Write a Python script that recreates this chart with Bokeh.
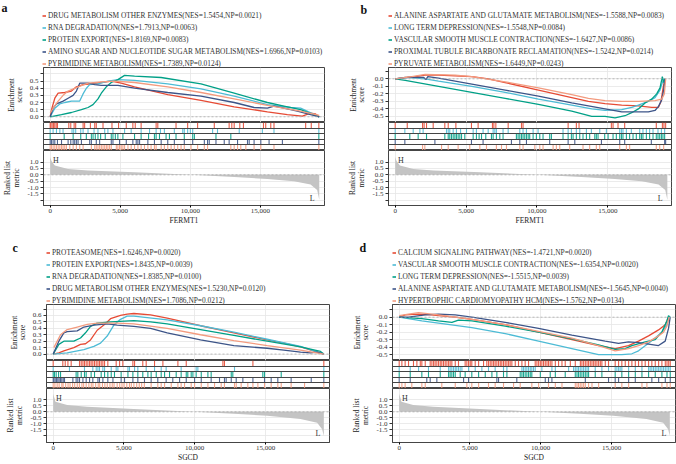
from bokeh.plotting import figure
from bokeh.layouts import column, row
from bokeh.models import (Legend, LegendItem, FixedTicker, NumeralTickFormatter,
                          PrintfTickFormatter, Span, Range1d, Label)
from bokeh.core.properties import value
from bokeh.embed import file_html
from bokeh.resources import INLINE

FONT = "Liberation Serif"
COLORS = ["#E64B35", "#4DBBD5", "#00A087", "#3C5488", "#F39B7F"]
X_TICKS = [0, 5000, 10000, 15000]
FRAME = "#454545"
GRID = "#E6E6E6"

# ---------------- panel a (FERMT1, positive) ----------------
a_labels = ["DRUG METABOLISM OTHER ENZYMES(NES=1.5454,NP=0.0021)",
            "RNA DEGRADATION(NES=1.7913,NP=0.0063)",
            "PROTEIN EXPORT(NES=1.8169,NP=0.0083)",
            "AMINO SUGAR AND NUCLEOTIDE SUGAR METABOLISM(NES=1.6966,NP=0.0103)",
            "PYRIMIDINE METABOLISM(NES=1.7389,NP=0.0124)"]
a_es_x = [
    [0, 95, 332, 569, 1043, 1517, 1872, 2346, 2939, 3650, 4361, 5072, 6020, 8390, 10760, 13130, 15500, 16922, 17988, 18581, 18936, 19200],
    [0, 332, 687, 1043, 1517, 2109, 2346, 2583, 2820, 3413, 4124, 4835, 6020, 8390, 10760, 13130, 15500, 17159, 17870, 19200],
    [0, 806, 1517, 2228, 2702, 3057, 3413, 3650, 4005, 4361, 4835, 5309, 6020, 7916, 10760, 13130, 15500, 16685, 17870, 19200],
    [0, 213, 450, 924, 1280, 1635, 1872, 2109, 2702, 3176, 3650, 4835, 6020, 8390, 10760, 13130, 14552, 15500, 15974, 16685, 17633, 18581, 19200],
    [0, 213, 569, 924, 1280, 1991, 2702, 3650, 4598, 6020, 8390, 10760, 13130, 15500, 17870, 19200]]
a_es_y = [
    [0.0, 0.10, 0.26, 0.33, 0.34, 0.36, 0.42, 0.45, 0.46, 0.48, 0.50, 0.47, 0.42, 0.31, 0.23, 0.14, 0.07, 0.03, 0.01, 0.05, 0.04, 0.0],
    [0.0, 0.12, 0.18, 0.20, 0.22, 0.22, 0.32, 0.40, 0.45, 0.46, 0.50, 0.52, 0.51, 0.46, 0.39, 0.29, 0.17, 0.13, 0.12, 0.0],
    [0.0, 0.03, 0.06, 0.10, 0.13, 0.17, 0.25, 0.33, 0.42, 0.48, 0.52, 0.58, 0.57, 0.55, 0.46, 0.33, 0.20, 0.15, 0.10, 0.0],
    [0.0, 0.12, 0.18, 0.22, 0.26, 0.30, 0.36, 0.47, 0.47, 0.45, 0.44, 0.44, 0.40, 0.34, 0.29, 0.20, 0.13, 0.12, 0.15, 0.12, 0.08, 0.03, 0.0],
    [0.05, 0.12, 0.22, 0.30, 0.36, 0.42, 0.47, 0.49, 0.50, 0.48, 0.42, 0.34, 0.25, 0.16, 0.08, 0.02]]
a_hits = [
    [0, 50, 140, 240, 330, 430, 520, 1330, 1470, 1710, 1820, 2350, 2460, 2870, 3180, 3290, 3770, 4410, 4880, 5430, 5900, 6070, 6490, 7560, 7680, 8980, 9810, 10520, 11710, 12770, 12960, 13130, 13530, 13790, 15220, 15380, 15740, 15970, 18230, 18630, 19170],
    [0, 210, 450, 690, 920, 1560, 1680, 1820, 2180, 2350, 2700, 3130, 3410, 3890, 4120, 4480, 5310, 5780, 6490, 7090, 7560, 7870, 8150, 8860, 9460, 9570, 9810, 10000, 10170, 11590, 11940, 13490, 15140, 15970, 19170],
    [0, 1000, 1640, 2180, 2580, 2940, 3060, 3220, 3410, 3600, 3930, 4360, 4480, 4650, 4830, 5190, 6020, 6490, 7020, 7440, 7560, 7800, 8270, 8510, 8980, 9570, 10170, 10290, 11830, 12890, 19170],
    [0, 90, 210, 330, 520, 810, 1280, 1470, 1640, 1750, 1870, 1990, 2230, 2820, 2940, 3290, 3530, 4360, 4480, 4950, 5430, 5900, 6140, 6260, 6380, 6970, 7440, 7920, 8390, 8860, 9570, 10170, 11000, 11230, 11350, 11830, 12420, 12770, 13370, 14080, 14200, 14550, 15030, 15620, 16570, 19170],
    [0, 90, 210, 330, 450, 570, 690, 810, 920, 1040, 1160, 1400, 1640, 1870, 2110, 2350, 2940, 3180, 3290, 3410, 3530, 3650, 3770, 3890, 4010, 4120, 4240, 4360, 4720, 4830, 4950, 5070, 5190, 5310, 5550, 5780, 6020, 6260, 6490, 6730, 6970, 7200, 7440, 7560, 7920, 8150, 8390, 8630, 8860, 9100, 9340, 9570, 10050, 10520, 11000, 11230, 12890, 13130, 13370, 13600, 13960, 14550, 15030, 15970, 19170]]

# ---------------- panel b (FERMT1, negative) ----------------
b_labels = ["ALANINE ASPARTATE AND GLUTAMATE METABOLISM(NES=-1.5588,NP=0.0083)",
            "LONG TERM DEPRESSION(NES=-1.5548,NP=0.0084)",
            "VASCULAR SMOOTH MUSCLE CONTRACTION(NES=-1.6427,NP=0.0086)",
            "PROXIMAL TUBULE BICARBONATE RECLAMATION(NES=-1.5242,NP=0.0214)",
            "PYRUVATE METABOLISM(NES=-1.6449,NP=0.0243)"]
b_es_x = [
    [0, 705, 1410, 2115, 3055, 4230, 5405, 6580, 7755, 10105, 12455, 13630, 14805, 15980, 17155, 18095, 18565, 18753, 18918, 19035],
    [0, 705, 1410, 2115, 3055, 5405, 7755, 10105, 12455, 13865, 14805, 15980, 16685, 17155, 17860, 18330, 18683, 18847, 18988],
    [0, 705, 3055, 5405, 7755, 10105, 12455, 13865, 14805, 15510, 16215, 16685, 17155, 17625, 18095, 18448, 18683, 18847, 18941, 19035],
    [0, 940, 1998, 2162, 2303, 3055, 5405, 7755, 10105, 12455, 14805, 15980, 17860, 18330, 18565, 18800, 18941, 19035],
    [0, 1175, 2115, 4230, 5405, 7755, 10105, 12455, 13630, 14805, 15980, 17155, 18330, 18800, 18988, 19082]]
b_es_y = [
    [0.0, 0.02, 0.03, 0.05, 0.05, 0.04, 0.03, 0.0, -0.05, -0.15, -0.25, -0.30, -0.33, -0.35, -0.36, -0.38, -0.38, -0.30, -0.10, 0.0],
    [0.0, 0.02, 0.01, 0.0, -0.03, -0.10, -0.18, -0.27, -0.35, -0.40, -0.42, -0.41, -0.38, -0.35, -0.30, -0.25, -0.15, -0.05, 0.0],
    [0.0, -0.02, -0.10, -0.18, -0.26, -0.34, -0.43, -0.50, -0.50, -0.52, -0.49, -0.45, -0.40, -0.32, -0.27, -0.20, -0.12, 0.03, -0.05, 0.0],
    [0.0, 0.02, 0.02, -0.01, 0.03, 0.01, -0.07, -0.15, -0.23, -0.32, -0.40, -0.44, -0.44, -0.42, -0.37, -0.28, -0.15, 0.0],
    [0.0, 0.03, 0.06, 0.05, 0.03, -0.04, -0.12, -0.21, -0.26, -0.29, -0.30, -0.30, -0.29, -0.27, -0.20, 0.0]]
b_hits = [
    [0, 850, 1930, 2040, 2210, 2680, 3500, 3740, 4280, 5380, 5850, 6860, 6960, 7100, 7970, 8910, 9020, 12200, 12780, 12970, 15250, 15370, 15720, 16190, 18420, 18850, 18960, 19080],
    [0, 680, 1270, 1740, 1970, 3620, 3740, 3850, 4090, 4320, 4610, 5030, 5500, 5730, 6200, 6560, 6910, 7030, 7140, 7610, 7970, 8790, 9020, 9260, 9730, 10080, 11840, 12200, 12430, 12780, 13020, 13490, 13840, 14430, 14900, 15840, 15960, 16070, 16310, 16660, 17250, 17480, 17720, 17950, 18190, 18540, 18780, 19010],
    [0, 1030, 1620, 2210, 3500, 3740, 3850, 3970, 4090, 4210, 4320, 4440, 4560, 4680, 4910, 5500, 5730, 5920, 6090, 6390, 6790, 6910, 7140, 7380, 7610, 8550, 8670, 8790, 8910, 9020, 9140, 9260, 9380, 9490, 9730, 9960, 10200, 10430, 10900, 11020, 11840, 12200, 12430, 12550, 12780, 13020, 13250, 13490, 13720, 14080, 14190, 14310, 14780, 15020, 15370, 15600, 15840, 15960, 16070, 16310, 16540, 16780, 17010, 17250, 17370, 17480, 17720, 17950, 18190, 18420, 18540, 18660, 18780, 18890, 19010],
    [0, 680, 2800, 5380, 6200, 8200, 8790, 9260, 10900, 12200, 12670, 14550, 15840, 16190, 18070, 19010, 19080],
    [0, 1930, 2090, 3270, 3740, 4440, 5260, 5970, 6440, 7140, 7500, 7850, 8790, 9020, 9850, 10200, 10430, 11140, 11370, 11610, 12310, 13250, 13720, 14190, 14430, 15840, 16310, 16540, 18420, 18660, 18940]]

# ---------------- panel c (SGCD, positive) ----------------
c_labels = ["PROTEASOME(NES=1.6246,NP=0.0020)",
            "PROTEIN EXPORT(NES=1.8435,NP=0.0039)",
            "RNA DEGRADATION(NES=1.8385,NP=0.0100)",
            "DRUG METABOLISM OTHER ENZYMES(NES=1.5230,NP=0.0120)",
            "PYRIMIDINE METABOLISM(NES=1.7086,NP=0.0212)"]
c_es_x = [
    [0, 400, 754, 1460, 1931, 2284, 2638, 3109, 3580, 4051, 4757, 5228, 5699, 6877, 8054, 10409, 12764, 15119, 16297, 17474, 19122],
    [0, 989, 2167, 2873, 3344, 3815, 4286, 4757, 5228, 5699, 8054, 10409, 12764, 15119, 17474, 19122],
    [0, 400, 754, 1460, 1931, 2284, 2638, 3109, 4051, 5699, 6877, 8054, 10409, 12764, 15119, 17474, 18887, 19122],
    [0, 400, 754, 989, 1696, 2167, 2873, 3815, 4522, 5699, 6877, 8054, 10409, 12764, 15119, 16297, 17474, 18181, 18652, 19122],
    [47, 518, 989, 1696, 2402, 3109, 4522, 5699, 8054, 10409, 12764, 15119, 17474, 19122]]
c_es_y = [
    [0.0, 0.02, 0.05, 0.10, 0.15, 0.16, 0.22, 0.37, 0.45, 0.55, 0.60, 0.62, 0.63, 0.61, 0.56, 0.44, 0.33, 0.22, 0.17, 0.11, 0.0],
    [0.0, 0.02, 0.07, 0.12, 0.17, 0.28, 0.45, 0.54, 0.59, 0.59, 0.53, 0.44, 0.34, 0.23, 0.12, 0.0],
    [0.0, 0.15, 0.20, 0.20, 0.25, 0.33, 0.43, 0.48, 0.50, 0.52, 0.50, 0.47, 0.38, 0.29, 0.20, 0.11, 0.04, 0.0],
    [0.0, 0.20, 0.33, 0.35, 0.36, 0.42, 0.45, 0.47, 0.45, 0.43, 0.40, 0.33, 0.22, 0.13, 0.09, 0.06, 0.03, 0.02, 0.03, 0.0],
    [0.10, 0.30, 0.38, 0.42, 0.46, 0.48, 0.48, 0.47, 0.40, 0.30, 0.21, 0.13, 0.06, 0.0]]
c_hits = [
    [0, 680, 850, 1040, 1270, 1860, 1980, 2100, 2210, 2330, 2450, 2570, 2680, 2800, 2920, 3040, 3160, 3270, 3390, 3510, 3630, 3860, 4450, 4690, 4920, 5630, 5750, 6330, 6570, 7160, 7750, 8810, 9400, 11990, 12100, 14110, 19120],
    [0, 1150, 2210, 2800, 3040, 3160, 3270, 3510, 3630, 4100, 4450, 4570, 5280, 5390, 5750, 5980, 6570, 7160, 7630, 7980, 9040, 10100, 10220, 12810, 19120],
    [0, 90, 210, 380, 520, 1620, 1740, 1980, 2210, 2330, 2680, 2920, 3390, 3630, 3860, 4100, 4330, 4800, 5280, 5630, 5980, 6330, 6690, 6920, 7280, 7630, 7870, 8220, 8690, 9040, 9400, 9510, 9750, 9870, 10100, 10460, 10930, 11160, 12580, 12690, 14810, 14930, 16110, 19120],
    [0, 50, 140, 240, 330, 420, 520, 610, 710, 800, 1390, 1620, 1740, 1860, 2100, 2330, 2570, 2800, 3160, 3270, 3510, 3860, 4220, 4800, 5040, 5630, 5980, 6450, 6920, 7390, 7980, 8450, 8930, 9400, 9990, 10460, 11160, 11750, 12100, 12220, 12580, 12930, 13400, 14110, 14930, 15400, 15870, 16810, 18230, 19120],
    [0, 120, 280, 420, 610, 700, 880, 1050, 1190, 1370, 1520, 1700, 1850, 2030, 2150, 2330, 2520, 2690, 2810, 3000, 3180, 3290, 3480, 3650, 3820, 4010, 4170, 4300, 4520, 4700, 4860, 5010, 5200, 5390, 5520, 5700, 5900, 6080, 6250, 6440, 6920, 7390, 7630, 7870, 8340, 8810, 9040, 9280, 9750, 9990, 10460, 10930, 11400, 11870, 12100, 12810, 12930, 13280, 13750, 14110, 14460, 14930, 15400, 15870, 16110, 16810, 17760, 19120]]

# ---------------- panel d (SGCD, negative) ----------------
d_labels = ["CALCIUM SIGNALING PATHWAY(NES=-1.4721,NP=0.0020)",
            "VASCULAR SMOOTH MUSCLE CONTRACTION(NES=-1.6354,NP=0.0020)",
            "LONG TERM DEPRESSION(NES=-1.5515,NP=0.0039)",
            "ALANINE ASPARTATE AND GLUTAMATE METABOLISM(NES=-1.5645,NP=0.0040)",
            "HYPERTROPHIC CARDIOMYOPATHY HCM(NES=-1.5762,NP=0.0134)"]
d_es_x = [
    [0, 424, 1366, 2308, 2779, 3956, 5134, 7489, 9844, 12199, 14083, 15260, 16202, 16909, 17615, 18322, 18793, 19028],
    [0, 1601, 2779, 5134, 7489, 9844, 12199, 14083, 15731, 16438, 16909, 17615, 18086, 18557, 18911, 19076],
    [0, 1601, 2779, 3721, 4192, 5134, 7489, 9844, 12199, 14083, 15260, 15967, 16438, 17380, 18086, 18557, 18911, 19028, 19146],
    [0, 659, 1837, 2779, 3956, 5134, 7489, 9844, 12199, 14554, 15496, 16202, 16909, 18322, 18793, 19028, 19146],
    [0, 659, 1366, 1837, 2779, 5134, 7489, 9844, 12199, 14083, 15260, 16202, 16909, 17615, 18322, 18675, 18911, 19076]]
d_es_y = [
    [0.0, 0.03, 0.04, 0.03, 0.02, 0.0, -0.03, -0.10, -0.20, -0.30, -0.38, -0.42, -0.38, -0.32, -0.25, -0.17, -0.10, 0.0],
    [0.0, -0.05, -0.08, -0.14, -0.22, -0.32, -0.42, -0.50, -0.50, -0.49, -0.45, -0.35, -0.28, -0.20, -0.10, 0.0],
    [0.0, -0.02, -0.05, -0.07, -0.04, -0.05, -0.12, -0.20, -0.29, -0.37, -0.43, -0.42, -0.38, -0.33, -0.30, -0.20, -0.05, 0.02, 0.0],
    [0.0, 0.0, 0.03, 0.04, 0.03, 0.0, -0.07, -0.15, -0.24, -0.32, -0.35, -0.33, -0.34, -0.38, -0.32, -0.15, 0.0],
    [0.02, 0.04, 0.06, 0.05, 0.03, -0.03, -0.10, -0.19, -0.28, -0.38, -0.45, -0.42, -0.38, -0.33, -0.25, -0.20, -0.12, 0.0]]
d_hits = [
    [0, 190, 420, 660, 1010, 1250, 1490, 1600, 1840, 2190, 2310, 2430, 2540, 2660, 2780, 2900, 3010, 3130, 3250, 3370, 3490, 3600, 3720, 3960, 4190, 4660, 4780, 4900, 5020, 5130, 5370, 5610, 5960, 6190, 6310, 6430, 6550, 6670, 6780, 6900, 7020, 7140, 7250, 7370, 7490, 7610, 7730, 7840, 7960, 8200, 8430, 8670, 8900, 9140, 9610, 9730, 9850, 9970, 10080, 10200, 10320, 10440, 10550, 10670, 10790, 11030, 11260, 11500, 11730, 12090, 12440, 12800, 12910, 13030, 13150, 13270, 13380, 13500, 13620, 13740, 13850, 13970, 14090, 14210, 14320, 14560, 14790, 15260, 15500, 15730, 15970, 16210, 16440, 16680, 16910, 17150, 17380, 17620, 17850, 18090, 18330, 18560, 18800, 18920, 19040, 19150],
    [0, 780, 1370, 2070, 2900, 3490, 3600, 3720, 3840, 3960, 4070, 4190, 4310, 4430, 4900, 5370, 5840, 6310, 6780, 7370, 7610, 8670, 8780, 8900, 9020, 9140, 9260, 9370, 9490, 9610, 10080, 10790, 11030, 11970, 12320, 12440, 12560, 12670, 12790, 12910, 13030, 13150, 13270, 13380, 13850, 14320, 14790, 15260, 15380, 15500, 15610, 15730, 16210, 16680, 17150, 17620, 17730, 17850, 17970, 18090, 18210, 18330, 18440, 18560, 18680, 18800, 18920, 19040, 19150],
    [0, 780, 1600, 2070, 2900, 3490, 3600, 3720, 3840, 3960, 4310, 4660, 5130, 5610, 6080, 6550, 6900, 7370, 7610, 8550, 8670, 8780, 8900, 9020, 9140, 9260, 9370, 9970, 10670, 11030, 11730, 12440, 12560, 12670, 12790, 12910, 13030, 13150, 13270, 13380, 13850, 14320, 15260, 15730, 16210, 16680, 17150, 17620, 18090, 18560, 18920, 19150],
    [0, 780, 1950, 2190, 2660, 4550, 4900, 6900, 7020, 8310, 10320, 10550, 10790, 13150, 14790, 15260, 15500, 16210, 16680, 17850, 18330, 18800, 19150],
    [0, 190, 420, 890, 1600, 1840, 3010, 3960, 4780, 5130, 5610, 6310, 6780, 7370, 8080, 8550, 9370, 9850, 10550, 11030, 11500, 12440, 12560, 12670, 12790, 12910, 13030, 13150, 13380, 13620, 14090, 15260, 15730, 16210, 17150, 17500, 18560, 18920, 19150]]

# ---------------- ranked list metrics ----------------
fermt1_genes = [0, 95, 330, 1280, 2700, 6020, 10050, 13130, 15500, 17400, 18580, 19050, 19200]
fermt1_metric = [1.40, 1.10, 0.74, 0.47, 0.34, 0.20, 0.0, -0.18, -0.32, -0.50, -0.76, -1.20, -1.97]
sgcd_genes = [0, 160, 990, 2400, 5700, 9940, 12760, 15120, 17470, 18650, 19000, 19120]
sgcd_metric = [1.50, 0.83, 0.56, 0.43, 0.24, 0.0, -0.16, -0.32, -0.59, -0.90, -1.44, -2.00]

RANK_TICKS = [-2.0, -1.5, -1.0, -0.5, 0.0, 0.5, 1.0]
H_POS = (200, 1.15)
L_POS = (18700, -1.83)
PANEL_W = 338
HEADER_H = 67
RUG_H = 28


def base_fig(width, height, xr, yr, left, right, top, bottom):
    p = figure(width=width, height=height, x_range=Range1d(*xr), y_range=Range1d(*yr),
               output_backend="svg", toolbar_location=None,
               min_border_left=left, min_border_right=right,
               min_border_top=top, min_border_bottom=bottom)
    p.outline_line_color = FRAME
    p.outline_line_width = 1
    p.xgrid.ticker = FixedTicker(ticks=X_TICKS)
    p.xgrid.grid_line_color = GRID
    p.ygrid.grid_line_color = GRID
    p.xgrid.grid_line_width = 0.8
    p.ygrid.grid_line_width = 0.8
    return p


def style_yaxis(p, ticks, blanks, label, size):
    ax = p.yaxis[0]
    ax.ticker = FixedTicker(ticks=ticks)
    p.ygrid.ticker = FixedTicker(ticks=ticks)
    ax.formatter = PrintfTickFormatter(format="%.1f")
    ax.major_label_overrides = {b: "" for b in blanks}
    ax.axis_label = label
    ax.axis_label_text_font = FONT
    ax.axis_label_text_font_size = size
    ax.axis_label_text_font_style = "normal"
    ax.axis_label_text_color = "#222222"
    ax.axis_label_text_line_height = 1.0
    ax.axis_label_standoff = 3
    ax.major_label_text_font = FONT
    ax.major_label_text_font_size = "7px"
    ax.major_label_text_color = "#333333"
    ax.major_label_standoff = 2
    ax.major_tick_out = 3
    ax.major_tick_in = 0
    ax.minor_tick_out = 0
    ax.minor_tick_in = 0
    ax.axis_line_color = FRAME
    ax.major_tick_line_color = "#333333"


def make_panel(letter, letter_xy, labels, es_x, es_y, hits, es_range, es_ticks, es_blank,
               genes, metric, rank_range, xlabel, xr, left, right, es_frame, rank_frame, bottom):
    # header: panel letter + legend (legend keys come from the ES curves, which
    # lie outside this header's ranges and so are not drawn here)
    hd = figure(width=PANEL_W, height=HEADER_H, x_range=Range1d(-3, -2), y_range=Range1d(-3, -2),
                x_axis_location=None, y_axis_location=None,
                output_backend="svg", toolbar_location=None,
                min_border_left=0, min_border_right=0, min_border_top=0, min_border_bottom=0)
    hd.grid.visible = False
    hd.outline_line_color = None
    keys = [hd.line(xs, ys, line_color=c, line_width=1.6) for xs, ys, c in zip(es_x, es_y, COLORS)]
    legend = Legend(items=[LegendItem(label=lab, renderers=[r]) for lab, r in zip(labels, keys)],
                    location=(left, -1), orientation="vertical",
                    glyph_width=4, glyph_height=7, label_height=7, label_standoff=2,
                    spacing=3, padding=0, margin=0, border_line_color=None,
                    background_fill_alpha=0, label_text_font=FONT,
                    label_text_font_size="7.4px", label_text_color="#333333",
                    label_text_baseline="middle")
    hd.add_layout(legend, "center")
    hd.add_layout(Label(x=letter_xy[0], y=letter_xy[1], x_units="screen", y_units="screen",
                        text=letter, text_font=FONT, text_font_size="12px",
                        text_font_style="bold", text_color="#111111",
                        text_baseline="alphabetic"))

    es = base_fig(PANEL_W, es_frame, xr, es_range, left, right, 0, 0)
    es.xaxis.visible = False
    style_yaxis(es, es_ticks, es_blank, "Enrichment\nscore", "7.2px")
    es.add_layout(Span(location=0, dimension="width", line_color="#AAAAAA",
                       line_dash="2 2", line_width=0.8))
    for xs, ys, c in zip(es_x, es_y, COLORS):
        es.line(xs, ys, line_color=c, line_width=1.3)

    rug = base_fig(PANEL_W, RUG_H, xr, (0, 5), left, right, 0, 0)
    rug.xaxis.visible = False
    rug.yaxis.visible = False
    rug.xgrid.ticker = FixedTicker(ticks=X_TICKS[1:])
    rug.ygrid.ticker = FixedTicker(ticks=[1, 2, 3, 4])
    rug.ygrid.grid_line_color = FRAME
    rug.ygrid.grid_line_width = 1.2
    rug.ygrid.level = "overlay"
    for i, (hs, c) in enumerate(zip(hits, COLORS)):
        rug.segment(x0=hs, x1=hs, y0=[4 - i] * len(hs), y1=[5 - i] * len(hs),
                    line_color=c, line_width=1.1, line_alpha=0.9)

    rk = base_fig(PANEL_W, rank_frame + bottom, xr, rank_range, left, right, 0, bottom)
    style_yaxis(rk, RANK_TICKS, [-2.0], "Ranked list\nmetric", "7.5px")
    rk.varea(x=genes, y1=[0] * len(genes), y2=metric, fill_color="#C4C4C4")
    rk.add_layout(Span(location=0, dimension="width", line_color="#AAAAAA",
                       line_dash="2 2", line_width=0.8))
    rk.text(x=[H_POS[0]], y=[H_POS[1]], text=["H"], text_font=value(FONT),
            text_font_size="8px", text_align="left", text_baseline="middle",
            text_color="#333333")
    rk.text(x=[L_POS[0]], y=[L_POS[1]], text=["L"], text_font=value(FONT),
            text_font_size="8px", text_align="center", text_baseline="middle",
            text_color="#333333")
    xa = rk.xaxis[0]
    xa.ticker = FixedTicker(ticks=X_TICKS)
    xa.formatter = NumeralTickFormatter(format="0,0")
    xa.axis_label = xlabel
    xa.axis_label_text_font = FONT
    xa.axis_label_text_font_size = "7.5px"
    xa.axis_label_text_font_style = "normal"
    xa.axis_label_text_color = "#222222"
    xa.axis_label_standoff = 0
    xa.major_label_text_font = FONT
    xa.major_label_text_font_size = "7px"
    xa.major_label_text_color = "#333333"
    xa.major_label_standoff = 1
    xa.major_tick_out = 2
    xa.major_tick_in = 0
    xa.minor_tick_out = 0
    xa.minor_tick_in = 0
    xa.axis_line_color = FRAME
    # the header sits in its own row so that its frame is not aligned with the plots below
    return column(row(hd, spacing=0), es, rug, rk, spacing=0)


pa = make_panel("a", (1, 59.5), a_labels, a_es_x, a_es_y, a_hits, (-0.08, 0.69),
                [0.0, 0.1, 0.2, 0.3, 0.4, 0.5, 0.6], [0.6],
                fermt1_genes, fermt1_metric, (-2.42, 1.92), "FERMT1",
                (-476, 19574), 42, 14, 55, 55, 32)
pb = make_panel("b", (22, 58), b_labels, b_es_x, b_es_y, b_hits, (-0.58, 0.15),
                [-0.5, -0.4, -0.3, -0.2, -0.1, 0.0, 0.1], [0.1],
                fermt1_genes, fermt1_metric, (-2.42, 1.92), "FERMT1",
                (-473, 19493), 50, 5, 55, 55, 32)
pc = make_panel("c", (12, 56.5), c_labels, c_es_x, c_es_y, c_hits, (-0.10, 0.77),
                [0.0, 0.1, 0.2, 0.3, 0.4, 0.5, 0.6, 0.7], [0.7],
                sgcd_genes, sgcd_metric, (-2.55, 1.94), "SGCD",
                (-473, 19521), 46, 9, 56, 56, 20)
pd_ = make_panel("d", (21, 56.5), d_labels, d_es_x, d_es_y, d_hits, (-0.58, 0.17),
                 [-0.5, -0.4, -0.3, -0.2, -0.1, 0.0, 0.1], [0.1],
                 sgcd_genes, sgcd_metric, (-2.55, 1.94), "SGCD",
                 (-473, 19521), 54, 1, 56, 56, 20)

root = column(row(pa, pb, spacing=0), row(pc, pd_, spacing=0), spacing=0)

open("out.html", "w").write(file_html(root, INLINE))
